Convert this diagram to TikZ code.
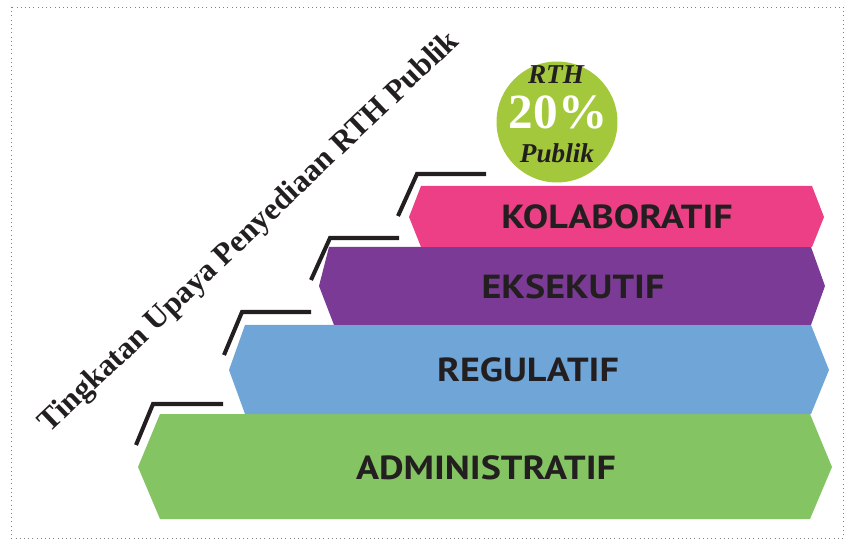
\documentclass[tikz,border=0pt]{standalone}
\usepackage{fontspec}
\setmainfont{Liberation Serif}
\newfontfamily\stepfont[FakeStretch=1.14]{PT Sans}
\usetikzlibrary{positioning}
\definecolor{stepgreen}{HTML}{84C463}
\definecolor{stepblue}{HTML}{6FA5D7}
\definecolor{steppurple}{HTML}{7B3A96}
\definecolor{steppink}{HTML}{EC3F85}
\definecolor{badgegreen}{HTML}{A4C83C}
\definecolor{inkdark}{HTML}{231F20}
\tikzset{
  steplabel/.style={font=\stepfont\bfseries\fontsize{19}{20}\selectfont,
                    text=inkdark, inner sep=0pt},
  bracket/.style={line width=2.3pt, draw=inkdark, line join=miter},
  badge/.style={circle, fill=badgegreen, minimum size=2.42cm, inner sep=0pt},
  badgetext/.style={font=\bfseries\itshape\fontsize{15.5}{16}\selectfont,
                    text=inkdark, inner sep=0pt},
  badgebig/.style={font=\bfseries\fontsize{28}{29}\selectfont,
                   text=white, inner sep=0pt},
  title/.style={font=\bfseries\fontsize{17.8}{20}\selectfont, text=inkdark,
                inner sep=0pt, rotate=43.6},
}

\begin{document}
\begin{tikzpicture}[x=0.02cm, y=-0.02cm]
  \useasboundingbox (0,0) rectangle (845,540);
  \draw[gray, dotted, line width=0.4pt] (11,7) rectangle (843,538);

  % steps, bottom to top
  \fill[stepgreen] (160,414) -- (810,414) -- (832,467) -- (810,519)
    -- (160,519) -- (138,467) -- cycle;
  \fill[stepblue] (245,325) -- (811,325) -- (829,370) -- (811,414)
    -- (245,414) -- (229,370) -- cycle;
  \fill[steppurple] (329,247) -- (811,247) -- (825,286) -- (811,325)
    -- (334,325) -- (319,286) -- cycle;
  \fill[steppink] (421,186) -- (812,186) -- (824,217) -- (812,247)
    -- (421,247) -- (409,217) -- cycle;

  % corner brackets
  \draw[bracket] (136,445) -- (153,404) -- (223,404);
  \draw[bracket] (224,355) -- (242,312) -- (311,312);
  \draw[bracket] (311,280) -- (330,238) -- (399,238);
  \draw[bracket] (398,216) -- (417,174) -- (486,174);

  \node[steplabel] (admin) at (486,468) {ADMINISTRATIF};
  \node[steplabel] (regul) at (528,370) {REGULATIF};
  \node[steplabel] (eksek) at (573,287) {EKSEKUTIF};
  \node[steplabel] (kolab) at (617,217) {KOLABORATIF};

  \node[badge] (badge) at (557,122) {};
  \node[badgetext] (rth) at (556,75) {RTH};
  \node[badgebig] (pct) at (558,112) {20\%};
  \node[badgetext] (publik) at (557,153) {Publik};

  \node[title] (judul) at (250,233) {Tingkatan Upaya Penyediaan RTH Publik};
\end{tikzpicture}
\end{document}
